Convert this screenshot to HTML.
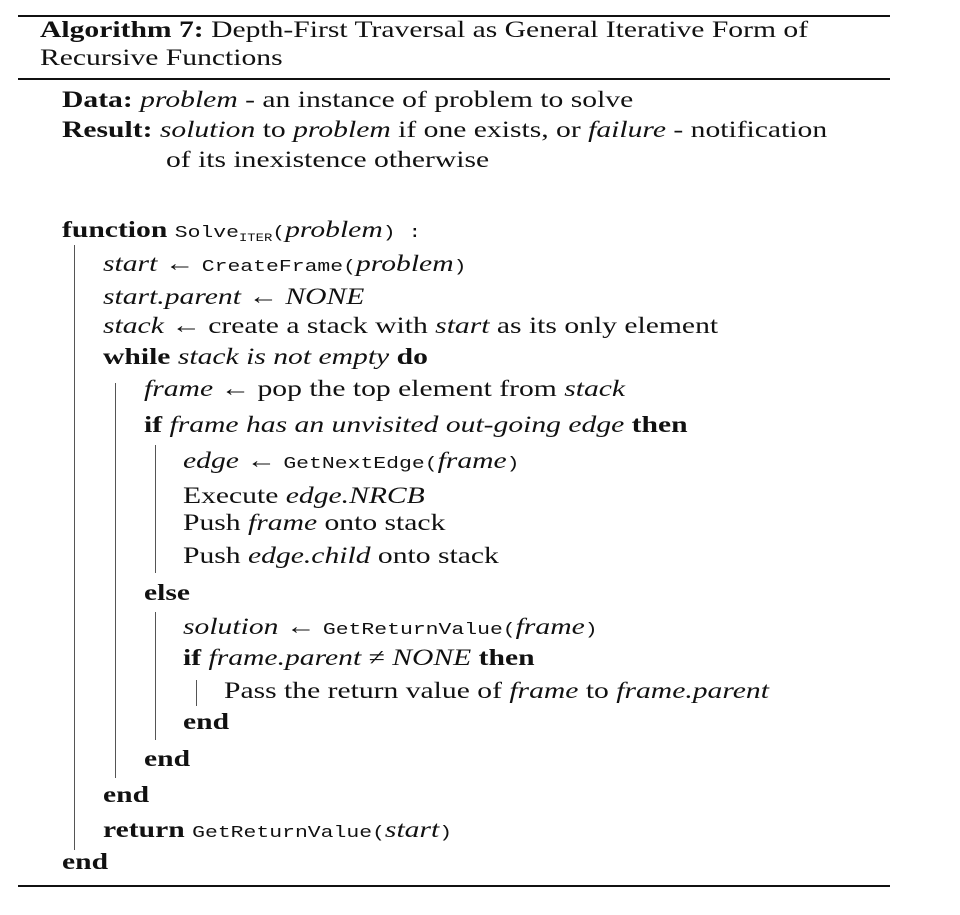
<!DOCTYPE html>
<html><head><meta charset="utf-8"><style>
html,body{margin:0;padding:0;background:#fff;}
#box{position:relative;width:960px;height:915px;overflow:hidden;font-family:"Liberation Serif",serif;font-size:23.5px;color:#111;}
.l{position:absolute;white-space:nowrap;line-height:26px;transform:scaleX(1.26);transform-origin:0 50%;}
.r{position:absolute;background:#111;}
.v{position:absolute;width:1.3px;background:#555;}
i{font-style:italic;}
.m{font-family:"Liberation Mono",monospace;font-size:17px;}
sub{font-family:"Liberation Mono",monospace;font-size:11px;vertical-align:-4px;}
</style></head><body>
<div id="box">
<div class="r" style="left:18px;top:15px;width:872px;height:2px"></div>
<div class="l" style="left:40px;top:17px"><b>Algorithm 7:</b> Depth-First Traversal as General Iterative Form of</div>
<div class="l" style="left:40px;top:45px">Recursive Functions</div>
<div class="r" style="left:18px;top:78px;width:872px;height:1.5px"></div>
<div class="l" style="left:62px;top:87px"><b>Data:</b> <i>problem</i> - an instance of problem to solve</div>
<div class="l" style="left:62px;top:117px"><b>Result:</b> <i>solution</i> to <i>problem</i> if one exists, or <i>failure</i> - notification</div>
<div class="l" style="left:166px;top:147px">of its inexistence otherwise</div>
<div class="l" style="left:62px;top:217px"><b>function</b> <span class="m">Solve</span><sub>ITER</sub><span class="m">(</span><i>problem</i><span class="m">) :</span></div>
<div class="l" style="left:103px;top:251px"><i>start</i> ← <span class="m">CreateFrame(</span><i>problem</i><span class="m">)</span></div>
<div class="l" style="left:103px;top:284px"><i>start.parent</i> ← <i>NONE</i></div>
<div class="l" style="left:103px;top:313px"><i>stack</i> ← create a stack with <i>start</i> as its only element</div>
<div class="l" style="left:103px;top:344px"><b>while</b> <i>stack is not empty</i> <b>do</b></div>
<div class="l" style="left:144px;top:376px"><i>frame</i> ← pop the top element from <i>stack</i></div>
<div class="l" style="left:144px;top:412px"><b>if</b> <i>frame has an unvisited out-going edge</i> <b>then</b></div>
<div class="l" style="left:183px;top:448px"><i>edge</i> ← <span class="m">GetNextEdge(</span><i>frame</i><span class="m">)</span></div>
<div class="l" style="left:183px;top:483px">Execute <i>edge.NRCB</i></div>
<div class="l" style="left:183px;top:510px">Push <i>frame</i> onto stack</div>
<div class="l" style="left:183px;top:543px">Push <i>edge.child</i> onto stack</div>
<div class="l" style="left:144px;top:580px"><b>else</b></div>
<div class="l" style="left:183px;top:614px"><i>solution</i> ← <span class="m">GetReturnValue(</span><i>frame</i><span class="m">)</span></div>
<div class="l" style="left:183px;top:645px"><b>if</b> <i>frame.parent</i> ≠ <i>NONE</i> <b>then</b></div>
<div class="l" style="left:224px;top:678px">Pass the return value of <i>frame</i> to <i>frame.parent</i></div>
<div class="l" style="left:183px;top:709px"><b>end</b></div>
<div class="l" style="left:144px;top:746px"><b>end</b></div>
<div class="l" style="left:103px;top:782px"><b>end</b></div>
<div class="l" style="left:103px;top:817px"><b>return</b> <span class="m">GetReturnValue(</span><i>start</i><span class="m">)</span></div>
<div class="l" style="left:62px;top:849px"><b>end</b></div>
<div class="v" style="left:74px;top:245px;height:605px"></div>
<div class="v" style="left:115px;top:383px;height:395px"></div>
<div class="v" style="left:155px;top:445px;height:128px"></div>
<div class="v" style="left:155px;top:612px;height:128px"></div>
<div class="v" style="left:196px;top:680px;height:26px"></div>
<div class="r" style="left:18px;top:885px;width:872px;height:2px"></div>
</div>
</body></html>
